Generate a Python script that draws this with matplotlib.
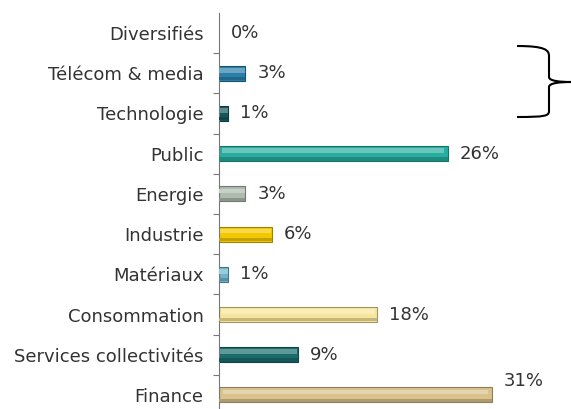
import matplotlib.pyplot as plt
import matplotlib.colors as mcolors
from matplotlib.path import Path
from matplotlib.patches import PathPatch
from matplotlib.transforms import IdentityTransform

# sector weights, top to bottom
sectors = ["Diversifiés", "Télécom & media", "Technologie", "Public", "Energie",
           "Industrie", "Matériaux", "Consommation", "Services collectivités", "Finance"]
weights = [0, 3, 1, 26, 3, 6, 1, 18, 9, 31]
colors = ["#2a7fa8", "#2a80aa", "#14595a", "#27aea0", "#aebcae",
          "#f2c900", "#6fb4cc", "#f6e59a", "#1b6c6c", "#d9c28c"]

W, H = 571, 409
fig = plt.figure(figsize=(W / 100, H / 100), dpi=100)
ax = fig.add_axes([219 / W, -6 / H, 352 / W, 402 / H])

n = len(sectors)
ys = list(range(n))


def shade(c, f):
    r, g, b = mcolors.to_rgb(c)
    if f > 1:
        return (r + (1 - r) * (f - 1), g + (1 - g) * (f - 1), b + (1 - b) * (f - 1))
    return (r * f, g * f, b * f)


bar_h = 0.37
for y, v, c in zip(ys, weights, colors):
    if v > 0:
        ax.barh(y, v, height=bar_h, color=c, edgecolor=shade(c, 0.65), linewidth=0.8, zorder=2)
        # light strip on top and a darker one below for a bevelled look
        ax.barh(y - bar_h * 0.2, v * 0.97, height=bar_h * 0.3, left=v * 0.015,
                color=shade(c, 1.3), linewidth=0, zorder=3)
        ax.barh(y + bar_h * 0.36, v, height=bar_h * 0.22,
                color=shade(c, 0.8), linewidth=0, zorder=3)
    lift = 10 if v == max(weights) else 0
    ax.annotate(f"{v}%", (v, y), xytext=(8.5, lift), textcoords="offset points",
                va="center", ha="left", fontsize=13, color="#333333")

ax.set_xlim(0, 40)
ax.set_ylim(n - 0.5, -0.5)
ax.set_yticks([i + 0.5 for i in range(n - 1)])
ax.set_yticklabels([])
ax.set_yticks(ys, minor=True)
ax.set_yticklabels(sectors, minor=True, fontsize=13, color="#333333")
ax.tick_params(axis="y", which="major", length=4, direction="out", color="#777777")
ax.tick_params(axis="y", which="minor", length=0, pad=11)
ax.set_xticks([])
for s in ["top", "right", "bottom"]:
    ax.spines[s].set_visible(False)
ax.spines["left"].set_color("#777777")

# curly brace grouping the first sectors
px = lambda x, y: (x, H - y)
verts = [px(517, 46), px(545, 46), px(549, 50), px(549, 56),
         px(549, 77),
         px(549, 81), px(560, 82), px(571, 82),
         px(560, 82), px(549, 83), px(549, 87),
         px(549, 111),
         px(549, 116), px(545, 117), px(517, 117)]
codes = [Path.MOVETO, Path.CURVE4, Path.CURVE4, Path.CURVE4,
         Path.LINETO,
         Path.CURVE4, Path.CURVE4, Path.CURVE4,
         Path.CURVE4, Path.CURVE4, Path.CURVE4,
         Path.LINETO,
         Path.CURVE4, Path.CURVE4, Path.CURVE4]
fig.patches.append(PathPatch(Path(verts, codes), transform=IdentityTransform(),
                             fill=False, edgecolor="black", linewidth=1.5))

fig.savefig("out.png", dpi=100)
